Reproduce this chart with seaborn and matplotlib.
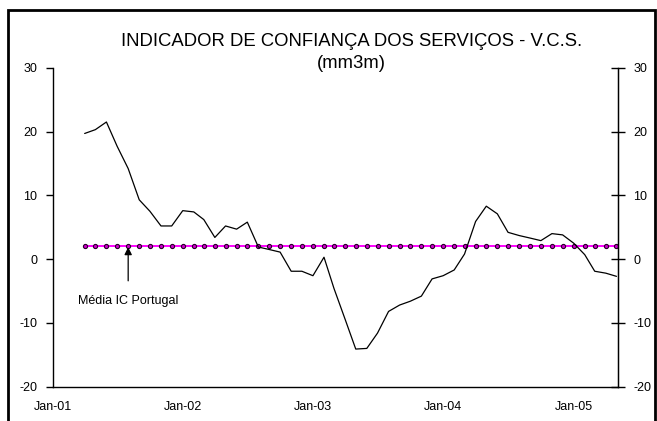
import seaborn as sns
import matplotlib.pyplot as plt
import matplotlib.dates as mdates
from matplotlib.patches import Rectangle
import numpy as np
import pandas as pd

# monthly 3-month moving average, Apr-2001 .. May-2005
months = pd.date_range("2001-04-01", "2005-05-01", freq="MS")
vcs = [19.7, 20.3, 21.5, 17.7, 14.2, 9.3, 7.5, 5.2, 5.2,
       7.6, 7.4, 6.2, 3.4, 5.2, 4.7, 5.8, 1.9, 1.5, 1.1, -1.9, -1.9,
       -2.6, 0.3, -4.6, -9.4, -14.1, -14.0, -11.6, -8.2, -7.2, -6.6, -5.8, -3.1,
       -2.6, -1.7, 0.8, 5.9, 8.3, 7.1, 4.2, 3.7, 3.3, 2.9, 4.0, 3.8,
       2.5, 0.7, -1.9, -2.2, -2.7]
media_pt = 2.1
xticks = pd.date_range("2001-01-01", "2005-01-01", freq="YS")

df = pd.DataFrame({"mes": months, "vcs": vcs, "media": media_pt})

sns.set_style("white")
plt.rcParams["font.family"] = ["Liberation Sans", "DejaVu Sans"]
plt.rcParams["axes.unicode_minus"] = False
plt.rcParams["text.color"] = "black"
plt.rcParams["xtick.color"] = "black"
plt.rcParams["ytick.color"] = "black"

fig = plt.figure(figsize=(6.57, 4.21), dpi=100)
ax = fig.add_axes([0.080, 0.0815, 0.8605, 0.7575])

sns.lineplot(data=df, x="mes", y="media", ax=ax, color="#ff00ff", linewidth=1.4,
             marker="o", markersize=3.0, markerfacecolor="#cc00cc",
             markeredgecolor="#2a002a", markeredgewidth=0.8)
sns.lineplot(data=df, x="mes", y="vcs", ax=ax, color="black", linewidth=0.9)

ax.set_xlim(pd.Timestamp("2001-01-01"), pd.Timestamp("2005-05-05"))
ax.set_ylim(-20, 30)
ax.set_yticks([-20, -10, 0, 10, 20, 30])
ax.set_xticks(xticks)
ax.xaxis.set_major_formatter(mdates.DateFormatter("Jan-%y"))
ax.set_xlabel("")
ax.set_ylabel("")

ax.spines["top"].set_visible(False)
for s in ["left", "right", "bottom"]:
    ax.spines[s].set_color("black")
    ax.spines[s].set_linewidth(1.0)

ax.tick_params(axis="x", direction="inout", length=8, width=1, labelsize=9, pad=6,
               colors="black")
ax.tick_params(axis="y", direction="out", length=5, width=1, labelsize=9, pad=6,
               left=True, labelleft=True, colors="black")

ax2 = ax.twinx()
ax2.set_ylim(-20, 30)
ax2.set_yticks([-20, -10, 0, 10, 20, 30])
for s in ["top", "left", "bottom"]:
    ax2.spines[s].set_visible(False)
ax2.spines["right"].set_color("black")
ax2.tick_params(axis="y", direction="inout", length=10, width=1, labelsize=9, pad=6,
                colors="black")
ax2.grid(False)

ax.annotate("Média IC Portugal", xy=(pd.Timestamp("2001-08-01"), media_pt),
            xytext=(pd.Timestamp("2001-08-01"), -6.6), ha="center", va="center",
            fontsize=9, color="black",
            arrowprops=dict(arrowstyle="-|>", color="black", lw=0.9,
                            mutation_scale=11, shrinkA=8, shrinkB=1))

fig.text(0.535, 1 - 41 / 421, "INDICADOR DE CONFIANÇA DOS SERVIÇOS - V.C.S.",
         ha="center", va="center", fontsize=13.3, color="black")
fig.text(0.535, 1 - 63 / 421, "(mm3m)", ha="center", va="center", fontsize=13.3,
         color="black")

fig.patches.append(Rectangle((8 / 657, -0.05), 647 / 657, 1 - 10 / 421 + 0.05,
                             transform=fig.transFigure, fill=False,
                             edgecolor="black", linewidth=2))

fig.savefig("out.png", dpi=100)
